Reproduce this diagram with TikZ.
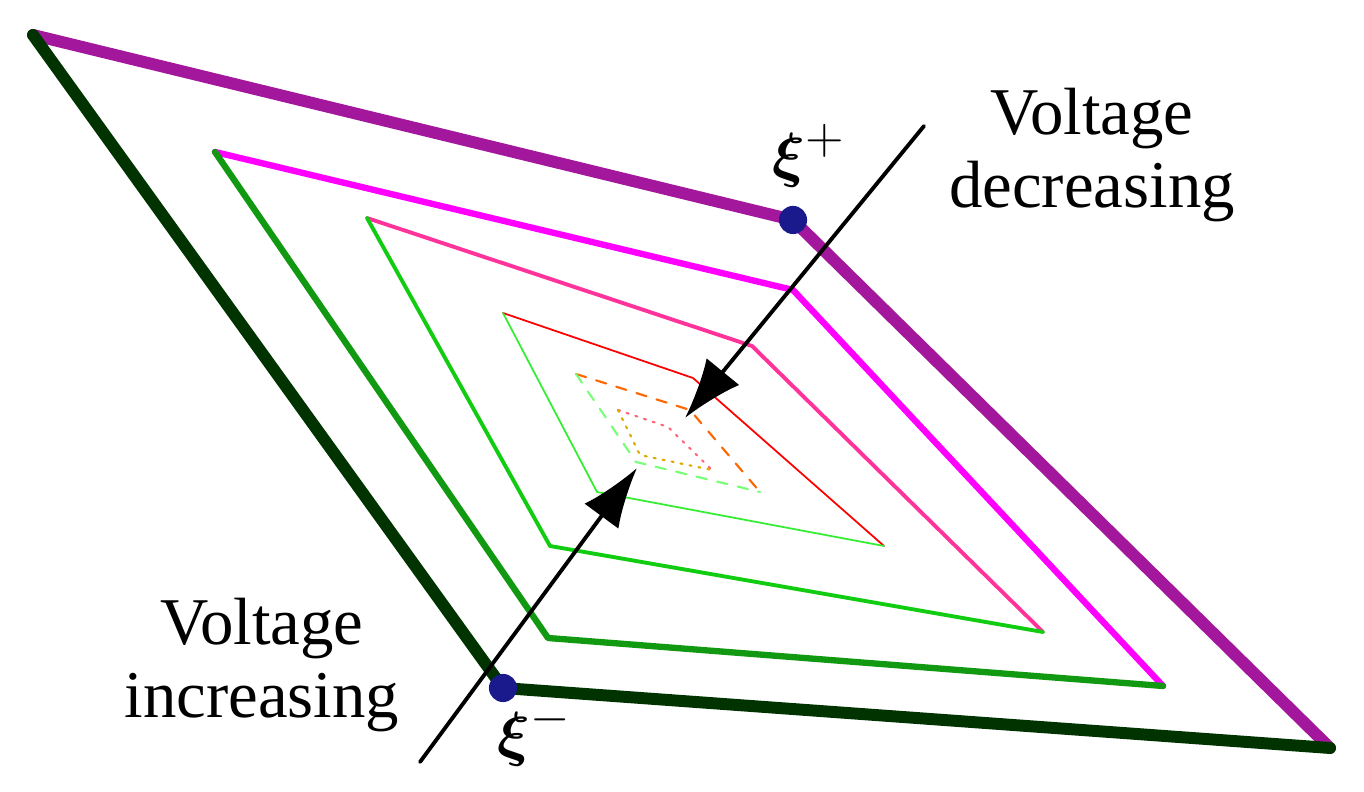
\documentclass[tikz,border=0pt]{standalone}
\usepackage{amsmath,amssymb,bm}
\usepackage{fontspec}
\setmainfont{Liberation Serif}
\usetikzlibrary{arrows.meta}
\definecolor{cpurple}{HTML}{A3179C}
\definecolor{cdkgreen}{HTML}{003300}
\definecolor{cmag}{HTML}{FF00FF}
\definecolor{cgreen}{HTML}{119911}
\definecolor{cpink}{HTML}{FF3399}
\definecolor{cbgreen}{HTML}{11CC11}
\definecolor{cred}{HTML}{FF0000}
\definecolor{clgreen}{HTML}{33EE33}
\definecolor{corange}{HTML}{FF6600}
\definecolor{clgreen2}{HTML}{77FF77}
\definecolor{cpink2}{HTML}{FF6677}
\definecolor{cyel}{HTML}{DDAA00}
\definecolor{cnavy}{HTML}{1A1A8C}
\tikzset{lbl/.style={font=\fontsize{19pt}{21pt}\selectfont,align=center,inner sep=0pt},
 arr/.style={draw=black,line width=1.1pt,-{Latex[length=17pt,width=12pt]}},
 dotpt/.style={circle,fill=cnavy,inner sep=0pt,minimum size=8pt}}
\begin{document}
\begin{tikzpicture}[x=0.01cm,y=-0.01cm,line join=round,line cap=round]
\useasboundingbox (0,0) rectangle (1364,792);
% loop 1
\coordinate (a1) at (33,35); \coordinate (b1) at (793,220); \coordinate (c1) at (1330,748); \coordinate (d1) at (503,688);
\draw[cpurple,line width=3.4pt] (a1)--(b1)--(c1);
\draw[cdkgreen,line width=3.4pt] (a1)--(d1)--(c1);
% loop 2
\coordinate (a2) at (215,152); \coordinate (b2) at (793,290); \coordinate (c2) at (1163,686); \coordinate (d2) at (548,638);
\draw[cmag,line width=1.8pt] (a2)--(b2)--(c2);
\draw[cgreen,line width=1.8pt] (a2)--(d2)--(c2);
% loop 3
\coordinate (a3) at (367,218); \coordinate (b3) at (752,346); \coordinate (c3) at (1043,632); \coordinate (d3) at (550,546);
\draw[cpink,line width=1.1pt] (a3)--(b3)--(c3);
\draw[cbgreen,line width=1.1pt] (a3)--(d3)--(c3);
% loop 4
\coordinate (a4) at (503,313); \coordinate (b4) at (693,378); \coordinate (c4) at (884,546); \coordinate (d4) at (597,492);
\draw[cred,line width=0.5pt] (a4)--(b4)--(c4);
\draw[clgreen,line width=0.5pt] (a4)--(d4)--(c4);
% loop 5
\coordinate (a5) at (576,374); \coordinate (b5) at (690,410); \coordinate (c5) at (760,492); \coordinate (d5) at (636,462);
\draw[corange,line width=0.6pt,dashed] (a5)--(b5)--(c5);
\draw[clgreen2,line width=0.6pt,dashed] (a5)--(d5)--(c5);
% loop 6
\coordinate (a6) at (618,410); \coordinate (b6) at (668,427); \coordinate (c6) at (712,470); \coordinate (d6) at (640,455);
\draw[cpink2,line width=0.6pt,dotted] (a6)--(b6)--(c6);
\draw[cyel,line width=0.6pt,dotted] (a6)--(d6)--(c6);
% arrows
\coordinate (t1) at (924,126); \coordinate (h1) at (685,418);
\coordinate (t2) at (420,762); \coordinate (h2) at (637,468);
\draw[arr] (t1)--(h1);
\draw[arr] (t2)--(h2);
\node[dotpt] (p1) at (b1) {};
\node[dotpt] (p2) at (d1) {};
\node[lbl,anchor=south west] (xp) at (772,188) {$\bm{\xi}^{+}$};
\node[lbl,anchor=north west] (xm) at (497,702) {$\bm{\xi}^{-}$};
\node[lbl] (vd) at (1092,155) {Voltage\\decreasing};
\node[lbl] (vi) at (262,665) {Voltage\\increasing};
\end{tikzpicture}
\end{document}
